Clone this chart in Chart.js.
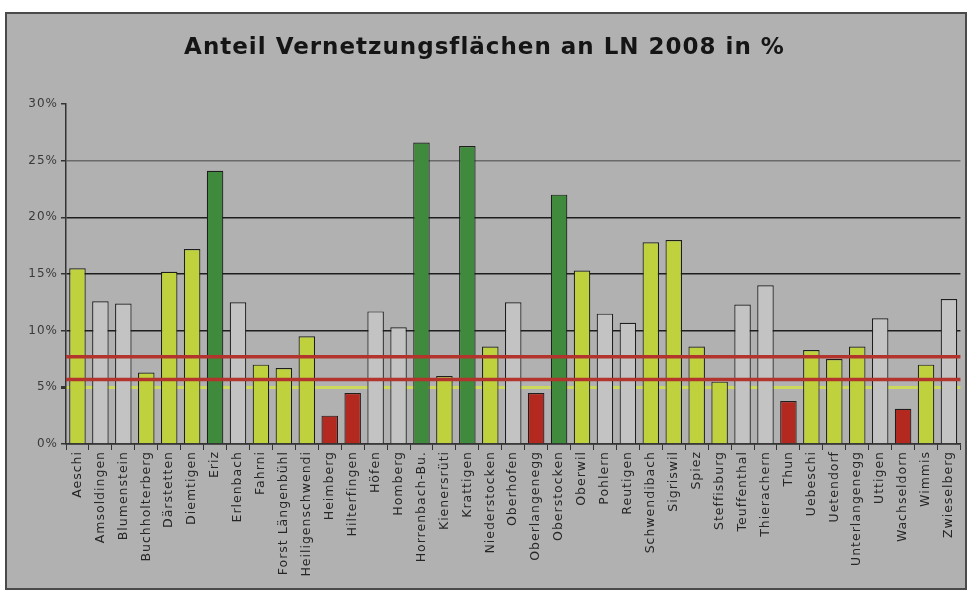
<!DOCTYPE html>
<html>
<head>
<meta charset="utf-8">
<script src="https://cdn.jsdelivr.net/npm/chart.js@4/dist/chart.umd.min.js"></script>
<style>
    body { margin: 0; background: #fff; }
    #frame {
        position: absolute; left: 5px; top: 12px;
        width: 958px; height: 574px;
        border: 2px solid #4a4a4a; background: #b1b1b1;
    }
    canvas { display: block; }
</style>
</head>
<body>
<div id="frame"><canvas id="chart1" width="958" height="574"></canvas></div>
<script>
// Gemeinden (x-axis categories)
const gemeinden = ["Aeschi", "Amsoldingen", "Blumenstein", "Buchholterberg", "Därstetten", "Diemtigen", "Eriz",
    "Erlenbach", "Fahrni", "Forst Längenbühl", "Heiligenschwendi", "Heimberg", "Hilterfingen", "Höfen",
    "Homberg", "Horrenbach-Bu.", "Kienersrüti", "Krattigen", "Niederstocken", "Oberhofen", "Oberlangenegg",
    "Oberstocken", "Oberwil", "Pohlern", "Reutigen", "Schwendibach", "Sigriswil", "Spiez", "Steffisburg",
    "Teuffenthal", "Thierachern", "Thun", "Uebeschi", "Uetendorf", "Unterlangenegg", "Uttigen",
    "Wachseldorn", "Wimmis", "Zwieselberg"];

// Anteil Vernetzungsflächen an LN 2008 (%)
const anteil = [15.5, 12.6, 12.4, 6.3, 15.2, 17.2, 24.1,
    12.5, 7.0, 6.7, 9.5, 2.5, 4.5, 11.7,
    10.3, 26.6, 6.0, 26.3, 8.6, 12.5, 4.5,
    22.0, 15.3, 11.5, 10.7, 17.8, 18.0, 8.6, 5.5,
    12.3, 14.0, 3.8, 8.3, 7.5, 8.6, 11.1,
    3.1, 7.0, 12.8];

// class of each Gemeinde: "hoch", "mittel", "tief", "ohne"
const klasse = ["mittel", "ohne", "ohne", "mittel", "mittel", "mittel", "hoch",
    "ohne", "mittel", "mittel", "mittel", "tief", "tief", "ohne",
    "ohne", "hoch", "mittel", "hoch", "mittel", "ohne", "tief",
    "hoch", "mittel", "ohne", "ohne", "mittel", "mittel", "mittel", "mittel",
    "ohne", "ohne", "tief", "mittel", "mittel", "mittel", "ohne",
    "tief", "mittel", "ohne"];

// reference lines (%)
const referenzLinien = [7.7, 5.7];

// y-axis ticks
const yMin = 0, yMax = 30, yStep = 5;

const farben = { hoch: "#3f8a3c", mittel: "#bfd23e", tief: "#b3281f", ohne: "#c3c3c3" };

// spaced-out lettering like the original
const spacing = {
    id: "spacing",
    beforeUpdate(chart) { chart.ctx.letterSpacing = "1px"; },
    beforeDraw(chart) { chart.ctx.letterSpacing = "1px"; }
};

const refLinesPlugin = {
    id: "refLines",
    afterDatasetsDraw(chart) {
        const c = chart.ctx, area = chart.chartArea, y = chart.scales.y;
        c.save();
        c.strokeStyle = "#b3342c";
        c.lineWidth = 3.5;
        referenzLinien.forEach(v => {
            const py = y.getPixelForValue(v);
            c.beginPath();
            c.moveTo(area.left, py);
            c.lineTo(area.right, py);
            c.stroke();
        });
        c.restore();
    }
};

new Chart(document.getElementById("chart1"), {
    type: "bar",
    data: {
        labels: gemeinden,
        datasets: [{
            data: anteil,
            backgroundColor: klasse.map(k => farben[k]),
            borderColor: "#1e1e1e",
            borderWidth: 1.2,
            barPercentage: 0.72,
            categoryPercentage: 1.0
        }]
    },
    options: {
        responsive: false,
        animation: false,
        layout: { padding: { left: 0, right: 3, top: 0, bottom: 0 } },
        plugins: {
            legend: { display: false },
            tooltip: { enabled: false },
            title: {
                display: true,
                text: "Anteil Vernetzungsflächen an LN 2008 in %",
                color: "#151515",
                font: { family: "DejaVu Sans", size: 23, weight: "bold" },
                padding: { top: 20.4, bottom: 42 }
            }
        },
        scales: {
            x: {
                grid: { drawOnChartArea: false, color: "#333", tickLength: 6, offset: true },
                border: { color: "#333", width: 1.5 },
                ticks: {
                    autoSkip: false, minRotation: 90, maxRotation: 90,
                    color: "#262626", padding: 1,
                    font: { family: "DejaVu Sans", size: 12.5 }
                },
                afterFit(scale) { scale.height = 144; }
            },
            y: {
                min: yMin, max: yMax,
                ticks: {
                    stepSize: yStep, color: "#3a3a3a", padding: 3,
                    font: { family: "DejaVu Sans", size: 12 },
                    callback: v => v + "%"
                },
                grid: {
                    tickLength: 5,
                    tickColor: "#333",
                    color: ctx => {
                        const v = ctx.tick ? ctx.tick.value : 0;
                        if (v === 5) return "#cdd85a";
                        if (v === 25) return "#6a6a6a";
                        if (v === 30) return "rgba(0,0,0,0)";
                        return "#1e1e1e";
                    },
                    lineWidth: ctx => (ctx.tick && ctx.tick.value === 5) ? 3 : 1.5
                },
                border: { color: "#333", width: 1.5 },
                afterFit(scale) { scale.width = 59; }
            }
        }
    },
    plugins: [spacing, refLinesPlugin]
});
</script>
</body>
</html>
